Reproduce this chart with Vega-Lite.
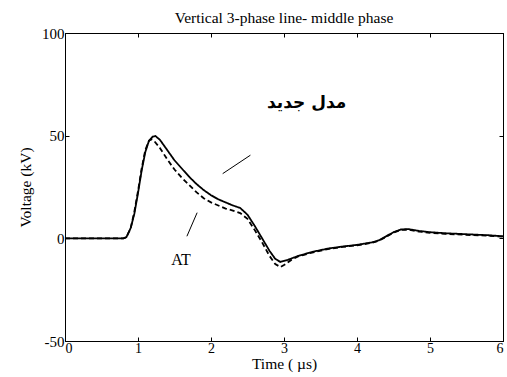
{
  "$schema": "https://vega.github.io/schema/vega-lite/v6.json",
  "width": 438,
  "height": 308,
  "autosize": "none",
  "padding": {"left": 65, "top": 33, "right": 4, "bottom": 36},
  "background": "white",
  "config": {
    "view": {"stroke": "black", "strokeWidth": 1},
    "font": "Liberation Serif",
    "axis": {
      "grid": false,
      "domainColor": "black",
      "tickColor": "black",
      "labelColor": "black",
      "titleColor": "black",
      "labelFont": "Liberation Serif",
      "titleFont": "Liberation Serif",
      "labelFontSize": 15,
      "titleFontSize": 15.5,
      "titleFontWeight": "normal",
      "tickSize": -4,
      "labelPadding": 5,
      "labelExpr": "'' + datum.value"
    }
  },
  "title": {
    "text": "Vertical 3-phase line- middle phase",
    "font": "Liberation Serif",
    "fontSize": 15.5,
    "fontWeight": "normal",
    "color": "black",
    "offset": 0
  },
  "datasets": {
    "curves": [
      {"t": 0, "v": 0, "s": "new"},
      {"t": 0.80, "v": 0, "s": "new"},
      {"t": 0.84, "v": 0.5, "s": "new"},
      {"t": 0.90, "v": 5, "s": "new"},
      {"t": 0.95, "v": 12, "s": "new"},
      {"t": 1.00, "v": 22, "s": "new"},
      {"t": 1.05, "v": 33, "s": "new"},
      {"t": 1.10, "v": 42, "s": "new"},
      {"t": 1.15, "v": 47.5, "s": "new"},
      {"t": 1.20, "v": 49.5, "s": "new"},
      {"t": 1.24, "v": 49.8, "s": "new"},
      {"t": 1.30, "v": 48, "s": "new"},
      {"t": 1.40, "v": 43, "s": "new"},
      {"t": 1.50, "v": 38, "s": "new"},
      {"t": 1.60, "v": 34, "s": "new"},
      {"t": 1.70, "v": 30, "s": "new"},
      {"t": 1.80, "v": 26.5, "s": "new"},
      {"t": 1.90, "v": 23.5, "s": "new"},
      {"t": 2.00, "v": 21, "s": "new"},
      {"t": 2.10, "v": 19, "s": "new"},
      {"t": 2.20, "v": 17.5, "s": "new"},
      {"t": 2.30, "v": 16, "s": "new"},
      {"t": 2.40, "v": 14.8, "s": "new"},
      {"t": 2.50, "v": 11.5, "s": "new"},
      {"t": 2.60, "v": 6, "s": "new"},
      {"t": 2.70, "v": 0, "s": "new"},
      {"t": 2.80, "v": -6, "s": "new"},
      {"t": 2.88, "v": -10, "s": "new"},
      {"t": 2.95, "v": -11.5, "s": "new"},
      {"t": 3.05, "v": -10.5, "s": "new"},
      {"t": 3.20, "v": -8.5, "s": "new"},
      {"t": 3.40, "v": -6.5, "s": "new"},
      {"t": 3.60, "v": -5, "s": "new"},
      {"t": 3.80, "v": -4, "s": "new"},
      {"t": 4.00, "v": -3.2, "s": "new"},
      {"t": 4.20, "v": -2, "s": "new"},
      {"t": 4.30, "v": -1, "s": "new"},
      {"t": 4.40, "v": 1, "s": "new"},
      {"t": 4.50, "v": 3, "s": "new"},
      {"t": 4.60, "v": 4.3, "s": "new"},
      {"t": 4.70, "v": 4.5, "s": "new"},
      {"t": 4.85, "v": 3.6, "s": "new"},
      {"t": 5.00, "v": 3, "s": "new"},
      {"t": 5.20, "v": 2.5, "s": "new"},
      {"t": 5.50, "v": 2, "s": "new"},
      {"t": 5.80, "v": 1.5, "s": "new"},
      {"t": 6.00, "v": 1, "s": "new"},
      {"t": 0, "v": 0, "s": "AT"},
      {"t": 0.80, "v": 0, "s": "AT"},
      {"t": 0.84, "v": 0.5, "s": "AT"},
      {"t": 0.90, "v": 5, "s": "AT"},
      {"t": 0.95, "v": 13, "s": "AT"},
      {"t": 1.00, "v": 23, "s": "AT"},
      {"t": 1.05, "v": 34, "s": "AT"},
      {"t": 1.10, "v": 43, "s": "AT"},
      {"t": 1.15, "v": 47.5, "s": "AT"},
      {"t": 1.18, "v": 48.3, "s": "AT"},
      {"t": 1.22, "v": 47.5, "s": "AT"},
      {"t": 1.30, "v": 44, "s": "AT"},
      {"t": 1.40, "v": 38.5, "s": "AT"},
      {"t": 1.50, "v": 33.5, "s": "AT"},
      {"t": 1.60, "v": 29.5, "s": "AT"},
      {"t": 1.70, "v": 26, "s": "AT"},
      {"t": 1.80, "v": 22.5, "s": "AT"},
      {"t": 1.90, "v": 19.5, "s": "AT"},
      {"t": 2.00, "v": 17.5, "s": "AT"},
      {"t": 2.10, "v": 16, "s": "AT"},
      {"t": 2.20, "v": 14.5, "s": "AT"},
      {"t": 2.30, "v": 13.5, "s": "AT"},
      {"t": 2.40, "v": 12.3, "s": "AT"},
      {"t": 2.50, "v": 9.5, "s": "AT"},
      {"t": 2.60, "v": 4, "s": "AT"},
      {"t": 2.70, "v": -2, "s": "AT"},
      {"t": 2.80, "v": -8.5, "s": "AT"},
      {"t": 2.88, "v": -12.5, "s": "AT"},
      {"t": 2.95, "v": -14, "s": "AT"},
      {"t": 3.00, "v": -13, "s": "AT"},
      {"t": 3.10, "v": -10.5, "s": "AT"},
      {"t": 3.20, "v": -8.7, "s": "AT"},
      {"t": 3.40, "v": -6.8, "s": "AT"},
      {"t": 3.60, "v": -5.2, "s": "AT"},
      {"t": 3.80, "v": -4.2, "s": "AT"},
      {"t": 4.00, "v": -3.4, "s": "AT"},
      {"t": 4.20, "v": -2.2, "s": "AT"},
      {"t": 4.30, "v": -1.2, "s": "AT"},
      {"t": 4.40, "v": 0.8, "s": "AT"},
      {"t": 4.50, "v": 2.8, "s": "AT"},
      {"t": 4.60, "v": 4.1, "s": "AT"},
      {"t": 4.70, "v": 4.2, "s": "AT"},
      {"t": 4.85, "v": 3.3, "s": "AT"},
      {"t": 5.00, "v": 2.7, "s": "AT"},
      {"t": 5.20, "v": 2.2, "s": "AT"},
      {"t": 5.50, "v": 1.7, "s": "AT"},
      {"t": 5.80, "v": 1.3, "s": "AT"},
      {"t": 6.00, "v": 0.8, "s": "AT"}
    ],
    "arrows": [
      {"t": 2.54, "v": 40.5, "t2": 2.16, "v2": 31.5},
      {"t": 1.67, "v": 1, "t2": 1.81, "v2": 12.5}
    ],
    "labels": [
      {"t": 3.31, "v": 66, "label": "مدل جدید", "kind": "ar"},
      {"t": 1.59, "v": -10.7, "label": "AT", "kind": "en"}
    ]
  },
  "layer": [
    {
      "data": {"name": "curves"},
      "mark": {"type": "line", "color": "black", "strokeWidth": 1.8},
      "encoding": {
        "x": {"field": "t", "type": "quantitative", "scale": {"domain": [0, 6], "nice": false},
              "axis": {"values": [0, 1, 2, 3, 4, 5, 6], "title": "Time ( µs)", "titlePadding": 1, "labelFontSize": 14, "labelPadding": 4, "orient": "bottom"}},
        "y": {"field": "v", "type": "quantitative", "scale": {"domain": [-50, 100], "nice": false},
              "axis": {"values": [-50, 0, 50, 100], "title": "Voltage (kV)", "titlePadding": 8, "orient": "left"}},
        "detail": {"field": "s"},
        "strokeDash": {
          "field": "s", "type": "nominal",
          "scale": {"domain": ["new", "AT"], "range": [[1, 0], [5, 3]]},
          "legend": null
        }
      }
    },
    {
      "data": {"name": "arrows"},
      "mark": {"type": "rule", "color": "black", "strokeWidth": 1},
      "encoding": {
        "x": {"field": "t", "type": "quantitative", "axis": {"orient": "top", "labels": false, "title": null, "values": [0, 1, 2, 3, 4, 5, 6]}},
        "y": {"field": "v", "type": "quantitative", "axis": {"orient": "right", "labels": false, "title": null, "values": [-50, 0, 50, 100]}},
        "x2": {"field": "t2"},
        "y2": {"field": "v2"}
      }
    },
    {
      "data": {"name": "labels"},
      "transform": [{"filter": "datum.kind == 'ar'"}],
      "mark": {"type": "text", "font": "DejaVu Sans", "fontWeight": "bold", "fontSize": 17, "color": "black"},
      "encoding": {
        "x": {"field": "t", "type": "quantitative", "axis": null},
        "y": {"field": "v", "type": "quantitative", "axis": null},
        "text": {"field": "label"}
      }
    },
    {
      "data": {"name": "labels"},
      "transform": [{"filter": "datum.kind == 'en'"}],
      "mark": {"type": "text", "font": "Liberation Serif", "fontSize": 16, "color": "black"},
      "encoding": {
        "x": {"field": "t", "type": "quantitative", "axis": null},
        "y": {"field": "v", "type": "quantitative", "axis": null},
        "text": {"field": "label"}
      }
    }
  ],
  "resolve": {"axis": {"x": "independent", "y": "independent"}}
}
